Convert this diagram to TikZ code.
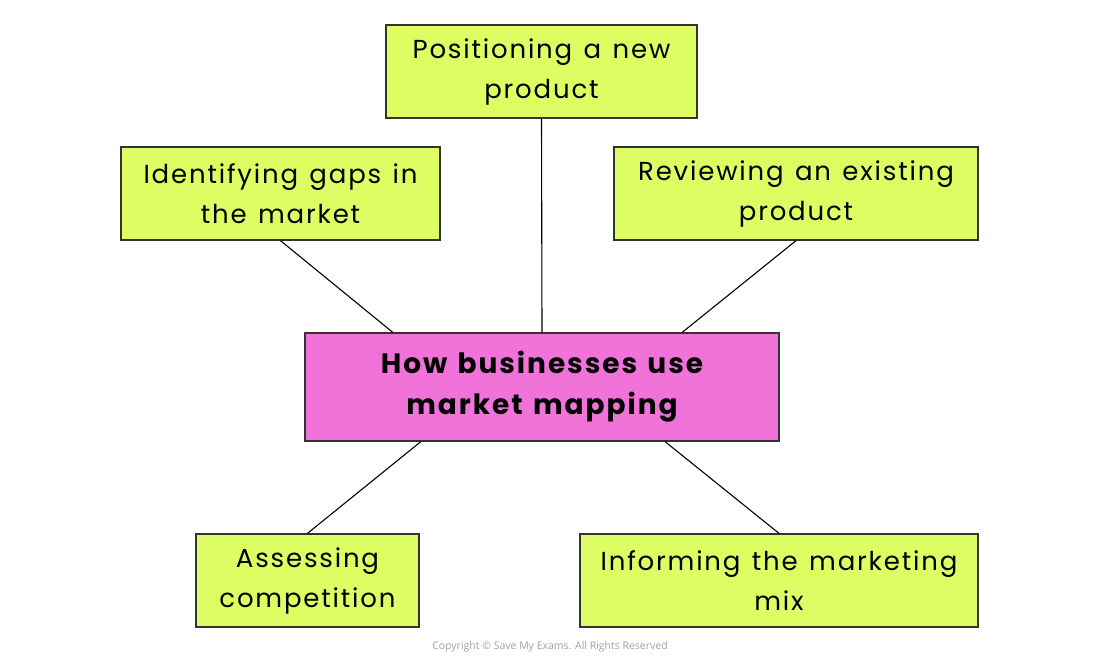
\documentclass[tikz,border=0pt]{standalone}
\usepackage{fontspec}
\setmainfont[LetterSpace=7,WordSpace=1.3]{Poppins}
\newfontfamily\copyfont{Open Sans}
\usetikzlibrary{calc}
\definecolor{boxgreen}{HTML}{DDFD63}
\definecolor{boxpink}{HTML}{F172D8}
\definecolor{edgegray}{HTML}{333333}
\definecolor{copygray}{HTML}{A0A0A0}
\begin{document}
\begin{tikzpicture}[x=1pt,y=-1pt,
  leaf/.style={draw=edgegray,line width=1.3pt,fill=boxgreen,inner sep=0pt,align=center,
    font=\fontsize{26}{40}\selectfont},
  hub/.style={draw=edgegray,line width=1.3pt,fill=boxpink,inner sep=0pt,align=center,
    font=\fontsize{28}{41}\selectfont\bfseries},
  link/.style={draw=black,line width=1.1pt}]
\useasboundingbox (0,0) rectangle (1100,661);
\node[leaf,minimum width=311pt,minimum height=93pt] (top) at (541.5,71.5) {Positioning a new\\product};
\node[leaf,minimum width=319pt,minimum height=93pt] (left) at (280.5,193.5) {Identifying gaps in\\the market};
\node[leaf,minimum width=364pt,minimum height=93pt] (right) at (796,193.5) {Reviewing an existing\\product};
\node[hub,minimum width=474pt,minimum height=108pt] (hub) at (542,387) {How businesses use\\market mapping};
\node[leaf,minimum width=223pt,minimum height=93pt] (bl) at (307.5,580.5) {Assessing\\competition};
\node[leaf,minimum width=398pt,minimum height=93pt] (br) at (779,580.5) {Informing the marketing\\mix};
\node[font=\fontsize{10.5}{12}\selectfont\copyfont,text=copygray] (copy) at (550,647) {Copyright \textcopyright\ Save My Exams. All Rights Reserved};
\draw[link] (top.south) -- (hub.north);
\draw[link] (left.south) -- ($(hub.north west)!0.186!(hub.north east)$);
\draw[link] (right.south) -- ($(hub.north west)!0.795!(hub.north east)$);
\draw[link] (bl.north) -- ($(hub.south west)!0.245!(hub.south east)$);
\draw[link] (br.north) -- ($(hub.south west)!0.759!(hub.south east)$);
\end{tikzpicture}
\end{document}
